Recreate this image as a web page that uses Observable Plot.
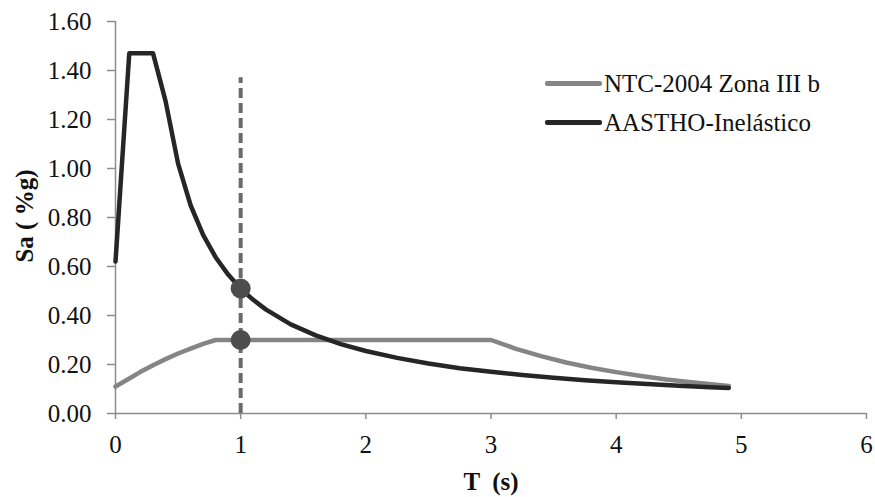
<!DOCTYPE html>
<html>
<head>
<meta charset="utf-8">
<script src="https://cdn.jsdelivr.net/npm/d3@7"></script>
<script src="https://cdn.jsdelivr.net/npm/@observablehq/plot@0.6"></script>
<style>
  html, body { margin: 0; padding: 0; background: #fff; }
  #wrap { position: relative; width: 875px; height: 497px; font-family: "Liberation Serif", "Times New Roman", serif; }
  #legend { position: absolute; left: 545px; top: 64px; font-size: 25px; color: #111; }
  .item { display: flex; align-items: center; height: 39px; }
  .sw { width: 57px; height: 5px; margin-right: 2px; border-radius: 2px; }
</style>
</head>
<body>
<div id="wrap">
  <div id="chart"></div>
  <div id="legend"></div>
</div>
<script>
// Series names
const seriesNames = ["NTC-2004 Zona III b", "AASTHO-Inelástico"];
const seriesColors = ["#858585", "#262626"];

// NTC-2004 Zona III b
const ntcT  = [0, 0.1, 0.2, 0.3, 0.4, 0.5, 0.6, 0.7, 0.8, 1.0, 1.5, 2.0, 2.5, 3.0, 3.2, 3.4, 3.6, 3.8, 4.0, 4.2, 4.4, 4.6, 4.8, 4.9];
const ntcSa = [0.11, 0.14, 0.17, 0.197, 0.222, 0.245, 0.265, 0.284, 0.30, 0.30, 0.30, 0.30, 0.30, 0.30, 0.264, 0.234, 0.208, 0.187, 0.169, 0.153, 0.139, 0.128, 0.117, 0.112];

// AASTHO-Inelástico
const aasT  = [0, 0.11, 0.3, 0.4, 0.5, 0.6, 0.7, 0.8, 0.9, 1.0, 1.1, 1.2, 1.4, 1.6, 1.8, 2.0, 2.25, 2.5, 2.75, 3.0, 3.25, 3.5, 3.75, 4.0, 4.25, 4.5, 4.75, 4.9];
const aasSa = [0.62, 1.47, 1.47, 1.275, 1.02, 0.85, 0.729, 0.638, 0.567, 0.51, 0.464, 0.425, 0.364, 0.319, 0.283, 0.255, 0.227, 0.204, 0.185, 0.17, 0.157, 0.146, 0.136, 0.128, 0.12, 0.113, 0.107, 0.104];

// Reference period line and highlighted points
const refT = 1;
const refTop = 1.37;
const markT  = [1, 1];
const markSa = [0.51, 0.30];

// Ticks
const xTicks = [0, 1, 2, 3, 4, 5, 6];
const yTicks = [0, 0.2, 0.4, 0.6, 0.8, 1.0, 1.2, 1.4, 1.6];

const ntc = ntcT.map((t, i) => ({T: t, Sa: ntcSa[i]}));
const aas = aasT.map((t, i) => ({T: t, Sa: aasSa[i]}));
const marks = markT.map((t, i) => ({T: t, Sa: markSa[i]}));

const axisColor = "#8c8c8c";

const chart = Plot.plot({
  width: 875,
  height: 497,
  marginLeft: 115,
  marginRight: 9,
  marginTop: 21,
  marginBottom: 84,
  style: { fontFamily: "Liberation Serif, Times New Roman, serif", fontSize: "25px", color: "#111", background: "#fff" },
  x: { domain: [0, 6] },
  y: { domain: [0, 1.6] },
  marks: [
    Plot.ruleY([0], { stroke: axisColor, strokeWidth: 1.5 }),
    Plot.ruleX([0], { stroke: axisColor, strokeWidth: 1.5 }),
    Plot.axisX({ ticks: xTicks, tickSize: 6, tickPadding: 16, fontSize: 25, stroke: axisColor, strokeWidth: 1.5, tickFormat: d3.format("d"), fill: "#111", label: null }),
    Plot.axisY({ ticks: yTicks, tickSize: 8, tickPadding: 16, fontSize: 25, stroke: axisColor, strokeWidth: 1.5, tickFormat: d3.format(".2f"), fill: "#111", label: null }),
    Plot.line(ntc, { x: "T", y: "Sa", stroke: seriesColors[0], strokeWidth: 4.5, strokeLinejoin: "round", strokeLinecap: "round" }),
    Plot.line(aas, { x: "T", y: "Sa", stroke: seriesColors[1], strokeWidth: 4.5, strokeLinejoin: "round", strokeLinecap: "round" }),
    Plot.ruleX([refT], { y1: 0, y2: refTop, stroke: "#6a6a6a", strokeWidth: 4, strokeDasharray: "10,5" }),
    Plot.dot(marks, { x: "T", y: "Sa", r: 10, fill: "#4d4d4d", stroke: "none" })
  ]
});

d3.select(chart).append("text")
  .attr("x", 491).attr("y", 490)
  .attr("text-anchor", "middle")
  .style("font-weight", "bold").style("font-size", "25px").attr("fill", "#111")
  .attr("xml:space", "preserve")
  .text("T  (s)");

d3.select(chart).append("text")
  .attr("transform", "translate(33,216) rotate(-90)")
  .attr("text-anchor", "middle")
  .style("font-weight", "bold").style("font-size", "25px").attr("fill", "#111")
  .text("Sa ( %g)");

document.getElementById("chart").appendChild(chart);

const legend = d3.select("#legend");
seriesNames.forEach((name, i) => {
  const it = legend.append("div").attr("class", "item");
  it.append("div").attr("class", "sw").style("background", seriesColors[i]);
  it.append("span").text(name);
});
</script>
</body>
</html>
